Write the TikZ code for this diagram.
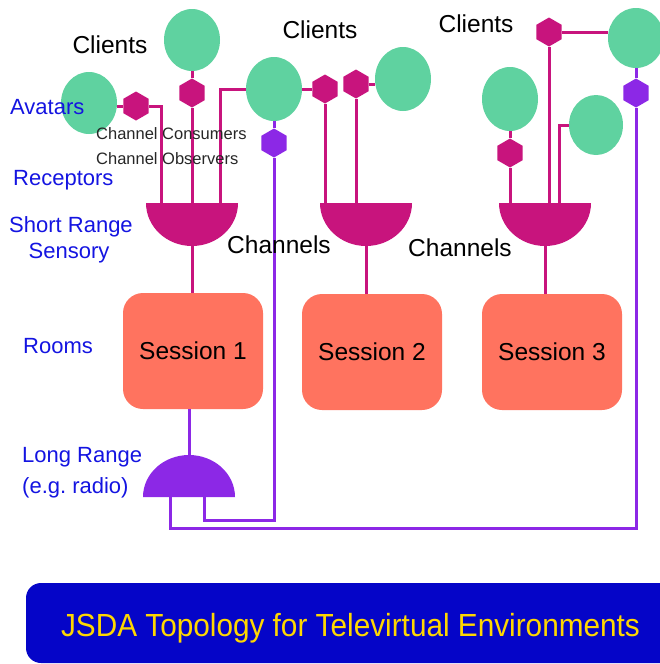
\documentclass[tikz,border=0pt]{standalone}
\usepackage{fontspec}
\setmainfont{Liberation Sans}
\usetikzlibrary{shapes.geometric}
\definecolor{cgreen}{RGB}{95,210,160}
\definecolor{cpink}{RGB}{200,20,125}
\definecolor{cpurple}{RGB}{140,40,230}
\definecolor{csalmon}{RGB}{255,115,95}
\definecolor{cblue}{RGB}{20,20,225}
\definecolor{cbanner}{RGB}{5,5,200}
\definecolor{cyellow}{RGB}{255,215,0}
\begin{document}
\begin{tikzpicture}[x=1pt,y=-1pt,
  client/.style={ellipse, fill=cgreen, minimum width=56, minimum height=62, inner sep=0},
  hexp/.style={regular polygon, regular polygon sides=6, shape border rotate=30, minimum size=29, inner sep=0, fill=cpink},
  hexv/.style={hexp, fill=cpurple},
  session/.style={rectangle, rounded corners=20, fill=csalmon, minimum width=140, minimum height=116, inner sep=0, font=\fontsize{24.5}{29}\selectfont},
  pline/.style={draw=cpink, line width=3},
  vline/.style={draw=cpurple, line width=3},
  blab/.style={text=cblue, font=\fontsize{22}{26}\selectfont, inner sep=0, anchor=base west},
  klab/.style={text=black, font=\fontsize{24.5}{29}\selectfont, inner sep=0, anchor=base},
  slab/.style={text=black!85, font=\fontsize{16.5}{20}\selectfont, inner sep=0, anchor=base west}]
\useasboundingbox (0,0) rectangle (660,664);

% clients
\node[client] (c1) at (89,103) {};
\node[client] (c2) at (192,40) {};
\node[client, minimum height=64] (c3) at (274,89) {};
\node[client, minimum height=64] (c4) at (403,79) {};
\node[client, minimum height=64] (c5) at (510,99) {};
\node[client, minimum width=54, minimum height=60] (c6) at (596,125) {};
\node[client, minimum height=60] (c7) at (636,38) {};

% hexagons
\node[hexp] (h1) at (136,106) {};
\node[hexp] (h2) at (192,93) {};
\node[hexv] (h3) at (274,143) {};
\node[hexp] (h4) at (325,89) {};
\node[hexp] (h5) at (356,84) {};
\node[hexp] (h6) at (549,32) {};
\node[hexp] (h7) at (510,153) {};
\node[hexv] (h8) at (636,93) {};

% sessions
\node[session] (s1) at (193,351) {Session 1};
\node[session] (s2) at (372,352) {Session 2};
\node[session] (s3) at (552,352) {Session 3};

% attach points
\coordinate (sd1a) at (161,203);
\coordinate (sd1b) at (192,203);
\coordinate (sd1c) at (220,203);
\coordinate (sd1o) at (192,246);
\coordinate (sd2a) at (325,203);
\coordinate (sd2b) at (356,203);
\coordinate (sd2o) at (366,246);
\coordinate (sd3a) at (510,203);
\coordinate (sd3b) at (549,203);
\coordinate (sd3c) at (559,203);
\coordinate (sd3o) at (545,246);
\coordinate (lrt) at (189,455);
\coordinate (lra) at (170,497);
\coordinate (lrb) at (204,497);
\coordinate (k1) at (274,520);
\coordinate (k2) at (636,528);

% connectors
\draw[pline] (h1) -- (h1 -| c1.east);
\draw[pline] (h1) -| (sd1a);
\draw[pline] (c2) -- (h2) -- (sd1b);
\draw[pline] (c3) -| (sd1c);
\draw[vline] (c3) -- (h3) -- (k1) -| (lrb);
\draw[pline] (c3) -- (h4);
\draw[pline] (h4) -- (sd2a);
\draw[pline] (h5) -- (h5 -| c4.west);
\draw[pline] (h5) -- (sd2b);
\draw[pline] (c5) -- (h7) -- (sd3a);
\draw[pline] (h6) -- (h6 -| c7.west);
\draw[pline] (h6) -- (sd3b);
\draw[pline] (c6) -| (sd3c);
\draw[vline] (c7) -- (h8) -- (k2) -| (lra);
\draw[pline] (sd1o) -- (sd1o |- s1.north);
\draw[pline] (sd2o) -- (sd2o |- s2.north);
\draw[pline] (sd3o) -- (sd3o |- s3.north);
\draw[vline] (lrt |- s1.south) -- (lrt);

% half discs (channels)
\fill[cpink] (146,203) -- (238,203) arc[start angle=0, end angle=180, x radius=46, y radius=43] -- cycle;
\fill[cpink] (320,203) -- (412,203) arc[start angle=0, end angle=180, x radius=46, y radius=43] -- cycle;
\fill[cpink] (499,203) -- (591,203) arc[start angle=0, end angle=180, x radius=46, y radius=43] -- cycle;
\fill[cpurple] (143,497) -- (235,497) arc[start angle=0, end angle=-180, x radius=46, y radius=42] -- cycle;

% labels
\node[klab] (cl1) at (110,53) {Clients};
\node[klab] (cl2) at (320,38) {Clients};
\node[klab] (cl3) at (476,32) {Clients};
\node[blab] (av) at (10,114) {Avatars};
\node[slab] (cc) at (96,139) {Channel Consumers};
\node[slab] (co) at (96,164) {Channel Observers};
\node[blab] (rc) at (13,185) {Receptors};
\node[blab, anchor=base] (sr) at (71,232) {Short Range};
\node[blab, anchor=base] (ss) at (69,258) {Sensory};
\node[klab] (ch1) at (279,253) {Channels};
\node[klab] (ch2) at (460,256) {Channels};
\node[blab] (rm) at (23,353) {Rooms};
\node[blab] (lr1) at (22,462) {Long Range};
\node[blab] (lr2) at (22,493) {(e.g.\ radio)};

% banner
\fill[cbanner, rounded corners=15] (26,583) rectangle (700,663);
\node[text=cyellow, font=\fontsize{32}{38}\selectfont, xscale=0.93, inner sep=0, anchor=base] (title) at (350.5,636) {JSDA Topology for Televirtual Environments};
\end{tikzpicture}
\end{document}
